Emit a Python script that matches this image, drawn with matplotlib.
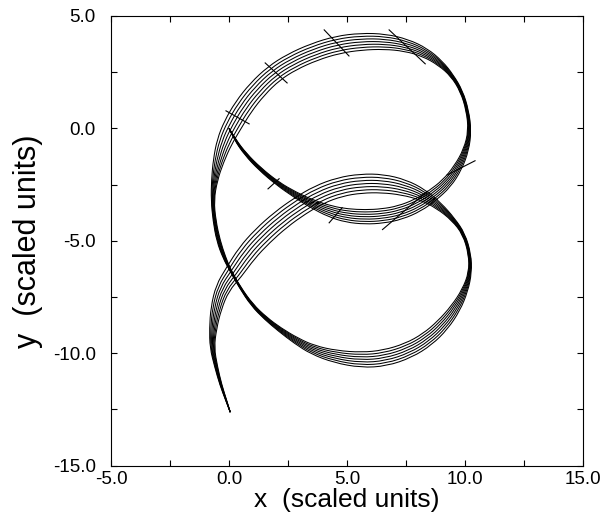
import numpy as np
import matplotlib
matplotlib.use("Agg")
import matplotlib.pyplot as plt
from matplotlib.path import Path
from matplotlib.patches import PathPatch

plt.rcParams['font.family'] = ['Liberation Sans', 'DejaVu Sans']

# centre line of the bundle of trajectories, and its full width
cx = [0.00, 0.25, 0.70, 1.30, 2.05, 2.80, 3.50, 4.30, 5.00, 5.76, 6.50, 7.24, 8.00, 8.60,
      9.22, 9.70, 10.05, 10.20, 10.10, 9.85, 9.45, 8.95, 8.30, 7.50, 6.60, 5.60, 4.60, 3.60,
      2.65, 1.90, 1.20, 0.60, 0.15, -0.20, -0.45, -0.62, -0.70, -0.62, -0.45, -0.20, 0.05,
      0.45, 0.97, 1.55, 2.15, 2.85, 3.55, 4.50, 5.60, 6.60, 7.60, 8.40, 9.05, 9.60, 10.00,
      10.22, 10.20, 9.95, 9.50, 8.90, 8.20, 7.40, 6.50, 5.60, 4.70, 3.80, 3.00, 2.20, 1.40,
      0.75, 0.20, -0.28, -0.55, -0.68, -0.72, -0.55, -0.35, -0.12, 0.05]
cy = [0.00, -0.50, -1.15, -1.80, -2.45, -2.95, -3.35, -3.70, -3.88, -3.94, -3.90, -3.75,
      -3.42, -3.00, -2.45, -1.75, -0.95, -0.10, 0.80, 1.65, 2.35, 2.90, 3.38, 3.70, 3.86,
      3.86, 3.72, 3.40, 2.95, 2.45, 1.75, 0.95, 0.15, -0.60, -1.45, -2.30, -3.20, -4.10,
      -5.00, -5.75, -6.30, -7.05, -7.85, -8.45, -8.95, -9.45, -9.85, -10.15, -10.30, -10.22,
      -9.88, -9.38, -8.75, -8.00, -7.20, -6.40, -5.60, -4.70, -4.05, -3.45, -2.95, -2.62,
      -2.45, -2.45, -2.60, -2.95, -3.45, -4.05, -4.80, -5.55, -6.40, -7.10, -8.00, -8.90,
      -9.75, -10.60, -11.40, -12.10, -12.62]
cw = [0.00, 0.06, 0.10, 0.13, 0.16, 0.24, 0.35, 0.50, 0.60, 0.64, 0.64, 0.62, 0.58, 0.52,
      0.45, 0.35, 0.22, 0.12, 0.10, 0.10, 0.12, 0.25, 0.40, 0.55, 0.68, 0.75, 0.78, 0.78,
      0.78, 0.78, 0.80, 0.80, 0.78, 0.65, 0.45, 0.25, 0.12, 0.12, 0.15, 0.12, 0.06, 0.06,
      0.10, 0.13, 0.18, 0.28, 0.40, 0.55, 0.68, 0.72, 0.68, 0.62, 0.55, 0.42, 0.25, 0.12,
      0.10, 0.10, 0.15, 0.30, 0.50, 0.70, 0.82, 0.85, 0.85, 0.85, 0.85, 0.85, 0.85, 0.82,
      0.75, 0.60, 0.45, 0.30, 0.18, 0.12, 0.08, 0.04, 0.00]
line_offsets = [-3, -2, -1, 0, 1, 2, 3]

# short transverse marks across the bundle
mark_x0 = [-0.13, 1.53, 4.03, 6.78, 9.24, 6.50, 4.24, 1.65]
mark_y0 = [0.78, 2.91, 4.38, 4.38, -2.07, -4.50, -4.20, -2.69]
mark_x1 = [0.85, 2.46, 5.08, 8.31, 10.42, 8.40, 4.79, 2.12]
mark_y1 = [0.20, 2.02, 3.22, 2.87, -1.44, -2.80, -3.53, -2.24]

x_ticks = [-5.0, 0.0, 5.0, 10.0, 15.0]
y_ticks = [-15.0, -10.0, -5.0, 0.0, 5.0]


def smooth_path(px, py):
    # quadratic b-spline through the points, drawn by matplotlib's path renderer
    n = len(px)
    verts = [(px[0], py[0])]
    codes = [Path.MOVETO]
    for i in range(1, n - 1):
        if i < n - 2:
            end = ((px[i] + px[i + 1]) / 2, (py[i] + py[i + 1]) / 2)
        else:
            end = (px[n - 1], py[n - 1])
        verts += [(px[i], py[i]), end]
        codes += [Path.CURVE3, Path.CURVE3]
    return Path(verts, codes)


fig = plt.figure(figsize=(6.10, 5.14), dpi=100)
ax = fig.add_axes([0.182, 0.094, 0.774, 0.875])

x = np.array(cx)
y = np.array(cy)
w = np.array(cw)
tx = np.gradient(x)
ty = np.gradient(y)
norm = np.hypot(tx, ty)
nx, ny = -ty / norm, tx / norm

for k in line_offsets:
    lx = x + nx * w * k / 6.0
    ly = y + ny * w * k / 6.0
    ax.add_patch(PathPatch(smooth_path(lx, ly), fill=False, edgecolor='black', lw=0.75))

for i in range(len(mark_x0)):
    ax.plot([mark_x0[i], mark_x1[i]], [mark_y0[i], mark_y1[i]], color='black', lw=0.8)

ax.set_xlim(-5, 15)
ax.set_ylim(-15, 5)
ax.set_xticks(x_ticks)
ax.set_yticks(y_ticks)
ax.set_xticklabels([f"{v:.1f}" for v in x_ticks])
ax.set_yticklabels([f"{v:.1f}" for v in y_ticks])
ax.set_xticks(np.arange(-2.5, 15, 5.0), minor=True)
ax.set_yticks(np.arange(-12.5, 5, 5.0), minor=True)
ax.tick_params(which='both', direction='in', top=True, right=True, length=4, width=0.8)
ax.tick_params(axis='x', labelsize=13.5, pad=4)
ax.tick_params(axis='y', labelsize=13.5, pad=11)
for s in ax.spines.values():
    s.set_linewidth(0.8)

ax.set_xlabel("x  (scaled units)", fontsize=19, labelpad=0)
ax.set_ylabel("y  (scaled units)", fontsize=22, labelpad=7)

fig.savefig("out.png", dpi=100)
